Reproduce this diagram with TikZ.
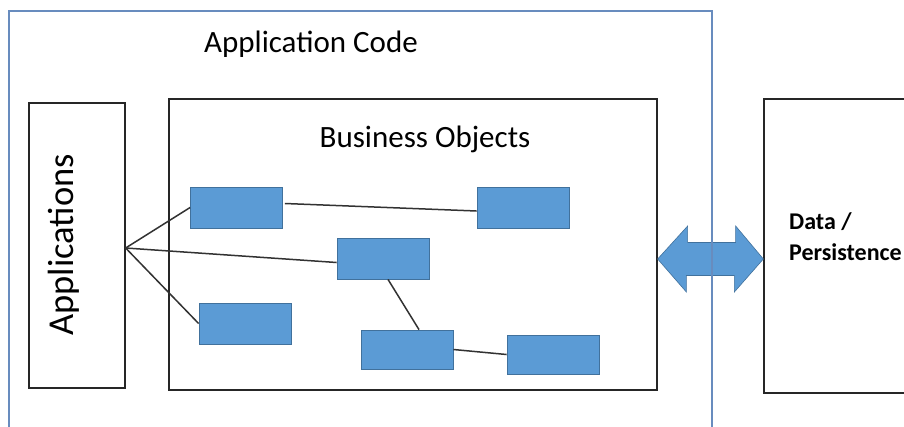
\documentclass[tikz,border=0pt]{standalone}
\usepackage{fontspec}
\setmainfont{Carlito}
\usetikzlibrary{calc}
\definecolor{boxblue}{HTML}{5B9BD5}
\definecolor{boxedge}{HTML}{41719C}
\definecolor{outerblue}{RGB}{104,140,190}
\definecolor{linkgray}{RGB}{50,50,50}
\begin{document}
\begin{tikzpicture}[x=1pt,y=-1pt,
  plainbox/.style={draw=black!85,line width=1.3pt,fill=white,inner sep=0pt},
  outerbox/.style={draw=outerblue,line width=1.6pt,inner sep=0pt},
  bobox/.style={draw=boxedge,line width=0.8pt,fill=boxblue,minimum width=92pt,minimum height=41pt,inner sep=0pt},
  link/.style={draw=linkgray,line width=1.5pt},
  bigarrow/.style={fill=boxblue,draw=boxedge,line width=0.6pt},
  title/.style={font=\fontsize{31}{36}\selectfont,inner sep=0pt,anchor=base}]
\useasboundingbox (0,0) rectangle (904,426);
\clip (0,0) rectangle (904,426);
\fill[white] (0,0) rectangle (904,426);
% boxes
\node[plainbox,minimum width=96pt,minimum height=285pt] (apps) at (77,245.5) {};
\node[plainbox,minimum width=488pt,minimum height=291pt] (bo) at (413,244.5) {};
\node[plainbox,minimum width=200pt,minimum height=294pt] (data) at (864,246) {};
% double arrow between business objects and data
\draw[bigarrow] ($(bo.east)+(0,14.5)$) -- ++(30,-33) -- ++(0,16.5) -- ++(48,0) -- ++(0,-16.5)
  -- ($(data.west)+(0,13)$) -- ++(-29,33) -- ++(0,-16.5) -- ++(-48,0) -- ++(0,16.5) -- cycle;
% outer application code box
\node[outerbox,minimum width=703pt,minimum height=438pt] (appcode) at (360.5,230) {};
% labels
\node[title] (appcodelabel) at (311,52) {Application Code};
\node[title] (bolabel) at (425,147) {Business Objects};
\node[font=\fontsize{36.5}{40}\selectfont,inner sep=0pt,anchor=base,rotate=90] (appslabel) at (73,245) {Applications};
\node[font=\bfseries\fontsize{24}{31}\selectfont,inner sep=0pt,anchor=north west,align=left] (datalabel) at (789,212) {Data /\\Persistence};
% business objects
\node[bobox] (b1) at (236.5,207.5) {};
\node[bobox] (b2) at (245,323.5) {};
\node[bobox] (b3) at (523,207.5) {};
\node[bobox] (b4) at (383,258.5) {};
\node[bobox,minimum height=39pt] (b5) at (407,349.5) {};
\node[bobox,minimum height=39pt] (b6) at (553,354.5) {};
% connectors
\coordinate (hub) at ($(apps.east)+(0,2.5)$);
\draw[link] (hub) -- (b1.west);
\draw[link] (hub) -- ($(b4.west)+(0,4)$);
\draw[link] (hub) -- (b2.west);
\draw[link] ($(b1.east)+(2,-4)$) -- ($(b3.west)+(0,3.5)$);
\draw[link] ($(b4.south)+(5,0)$) -- ($(b5.north)+(12,0)$);
\draw[link] (b5.east) -- (b6.west);
\end{tikzpicture}
\end{document}
